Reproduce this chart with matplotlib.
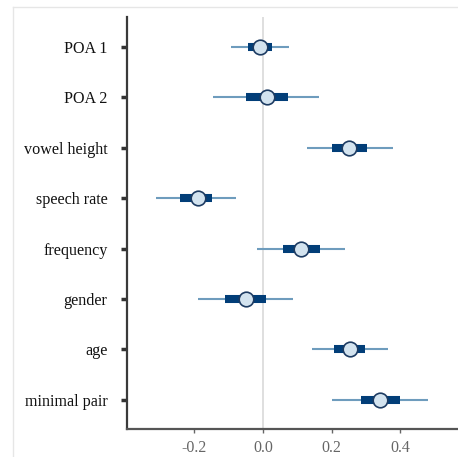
import matplotlib
matplotlib.use("Agg")
import matplotlib.pyplot as plt
from matplotlib.lines import Line2D

# predictor names, top to bottom
predictores = ["POA 1", "POA 2", "vowel height", "speech rate",
               "frequency", "gender", "age", "minimal pair"]
# point estimates
estimacion = [-0.009, 0.012, 0.251, -0.190, 0.111, -0.050, 0.254, 0.342]
# inner (thick) interval
inner_lo = [-0.044, -0.050, 0.200, -0.242, 0.058, -0.111, 0.207, 0.286]
inner_hi = [0.026, 0.073, 0.304, -0.149, 0.166, 0.009, 0.298, 0.400]
# outer (thin) interval
outer_lo = [-0.093, -0.146, 0.128, -0.312, -0.018, -0.190, 0.143, 0.200]
outer_hi = [0.076, 0.163, 0.380, -0.079, 0.240, 0.088, 0.365, 0.482]
xticks = [-0.2, 0.0, 0.2, 0.4]

plt.rcParams['font.family'] = ['Liberation Serif', 'DejaVu Serif']

fig = plt.figure(figsize=(4.58, 4.57), dpi=100)
ax = fig.add_axes([0.277, 0.0613, 0.721, 0.902])

# faint frame of the original image
fig.add_artist(Line2D([13 / 458, 1], [1 - 7 / 457, 1 - 7 / 457],
                      transform=fig.transFigure, color='#e6e6e6', lw=1))
fig.add_artist(Line2D([13 / 458, 13 / 458], [0, 1 - 7 / 457],
                      transform=fig.transFigure, color='#e6e6e6', lw=1))

ax.axvline(0, color='#dcdcdc', lw=1.3, zorder=0)

ys = list(range(len(predictores)))
ax.hlines(ys, outer_lo, outer_hi, color='#6e9cbd', lw=1.5, zorder=1)
ax.hlines(ys, inner_lo, inner_hi, color='#023e78', lw=5.8, zorder=2)
ax.plot(estimacion, ys, 'o', ms=10.5, mfc='#d3e3ef', mec='#1d3b62', mew=1.2,
        zorder=3)

ax.set_xlim(-0.397, 0.566)
ax.set_ylim(7.58, -0.6)
ax.set_yticks(ys)
ax.set_yticklabels(predictores, fontsize=11.6, color='#111111')
ax.set_xticks(xticks)
ax.set_xticklabels([f'{t:.1f}' for t in xticks], fontsize=11.5, color='#666666')

for s in ['top', 'right']:
    ax.spines[s].set_visible(False)
ax.spines['left'].set_color('#3a3a3a')
ax.spines['bottom'].set_color('#555555')
ax.spines['left'].set_linewidth(1.6)
ax.spines['bottom'].set_linewidth(1.6)

ax.tick_params(axis='y', length=4, width=2.5, color='#333333', pad=10)
ax.tick_params(axis='x', length=3, width=1, color='#666666', pad=5)

fig.savefig('out.png', dpi=100)
